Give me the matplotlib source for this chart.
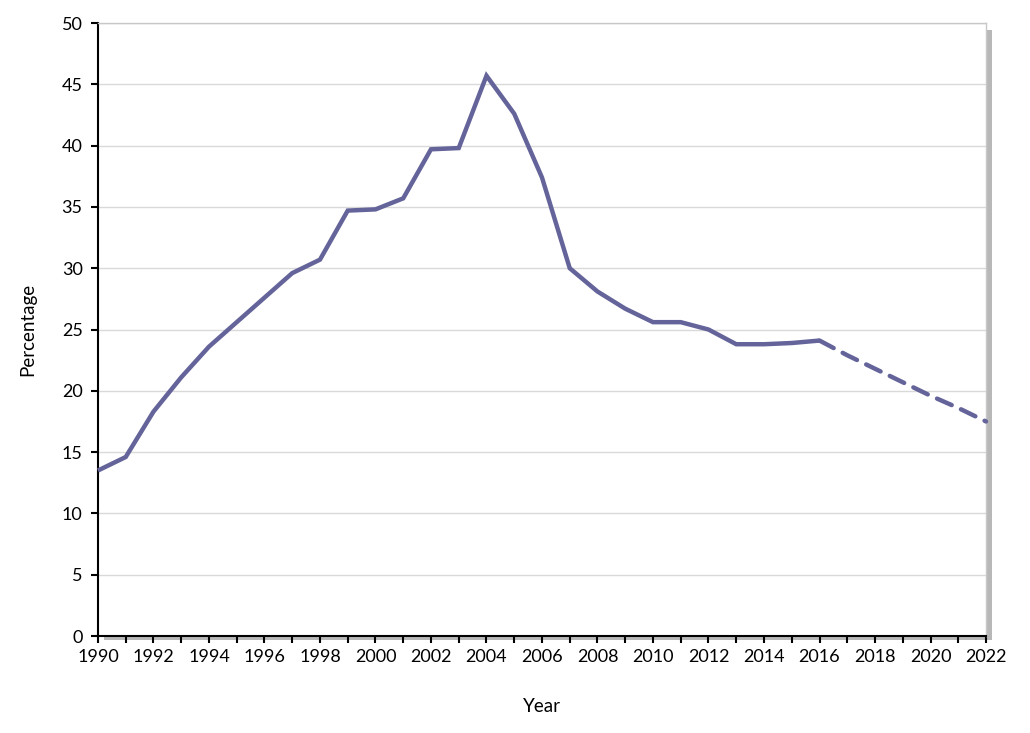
import matplotlib.pyplot as plt
from matplotlib.patches import Rectangle

plt.rcParams['font.family'] = ['Lato', 'DejaVu Sans']

# === data ===
years_actual = list(range(1990, 2017))
pct_actual = [13.5, 14.6, 18.3, 21.1, 23.6, 25.6, 27.6, 29.6, 30.7, 34.7,
              34.8, 35.7, 39.7, 39.8, 45.7, 42.6, 37.4, 30.0, 28.1, 26.7,
              25.6, 25.6, 25.0, 23.8, 23.8, 23.9, 24.1]
years_proj = list(range(2016, 2023))
pct_proj = [24.1, 22.9, 21.8, 20.7, 19.6, 18.6, 17.5]

line_color = "#64649A"

fig = plt.figure(figsize=(10.3, 7.33), dpi=100)
ax = fig.add_axes([0.0951, 0.1323, 0.8622, 0.8363])
ax.set_zorder(1)

# shadow behind plot area (right and bottom)
fig.patches.append(Rectangle((0.0951 + 0.006, 0.1323 - 0.006), 0.8622, 0.8363 - 0.004,
                             transform=fig.transFigure, facecolor="#b8b8b8",
                             edgecolor="none", zorder=0))

ax.plot(years_actual, pct_actual, color=line_color, lw=3.2, solid_capstyle="butt",
        solid_joinstyle="miter", zorder=3, clip_on=False)
ax.plot(years_proj, pct_proj, color=line_color, lw=3.2, dashes=(3.6, 2.3),
        dash_capstyle="round", zorder=3, clip_on=False)

ax.set_xlim(1990, 2022)
ax.set_ylim(0, 50)
ax.set_yticks(range(0, 51, 5))
ax.set_xticks(range(1990, 2023, 2))
ax.set_xticks(range(1990, 2023), minor=True)
ax.yaxis.grid(True, color="#d9d9d9", lw=1)
ax.set_axisbelow(True)

for s in ["top", "right"]:
    ax.spines[s].set_color("#c8c8c8")
    ax.spines[s].set_linewidth(1)
for s in ["left", "bottom"]:
    ax.spines[s].set_color("black")
    ax.spines[s].set_linewidth(1.5)

ax.tick_params(axis="both", which="both", direction="out", width=1.5,
               labelsize=13, colors="black")
ax.tick_params(axis="y", length=5, pad=6)
ax.tick_params(axis="x", which="both", length=5, pad=4)

ax.set_xlabel("Year", fontsize=13.5, labelpad=24)
ax.set_ylabel("Percentage", fontsize=13.5, labelpad=18)

plt.savefig("out.png", dpi=100)
